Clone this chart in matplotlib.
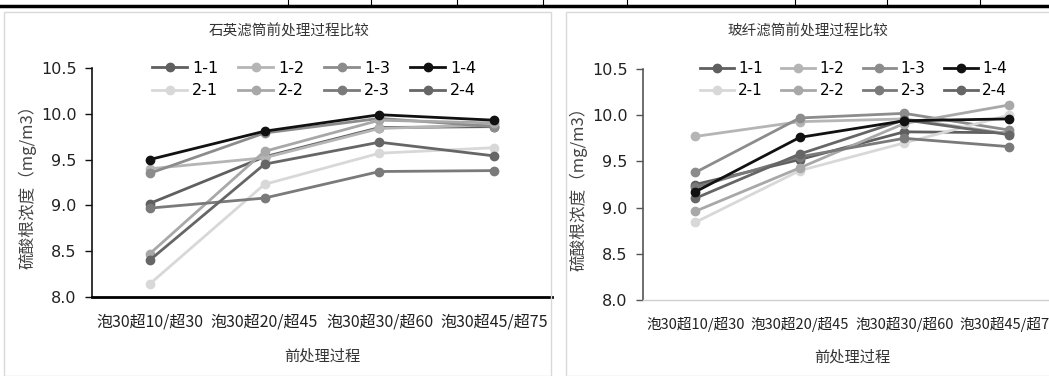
import matplotlib
matplotlib.use("Agg")
import matplotlib.pyplot as plt
from matplotlib.patches import Rectangle
from matplotlib.lines import Line2D

plt.rcParams['font.family'] = ['Noto Sans CJK SC', 'DejaVu Sans']

categories = ["泡30超10/超30", "泡30超20/超45", "泡30超30/超60", "泡30超45/超75"]
series_names = ["1-1", "1-2", "1-3", "1-4", "2-1", "2-2", "2-3", "2-4"]
series_colors = ["#5f5f5f", "#b5b5b5", "#8c8c8c", "#111111",
                 "#d8d8d8", "#a8a8a8", "#7a7a7a", "#666666"]

# 石英滤筒
quartz = {
    "1-1": [9.02, 9.53, 9.85, 9.86],
    "1-2": [9.40, 9.52, 9.84, 9.88],
    "1-3": [9.35, 9.79, 9.95, 9.86],
    "1-4": [9.50, 9.81, 9.99, 9.93],
    "2-1": [8.14, 9.23, 9.57, 9.63],
    "2-2": [8.47, 9.59, 9.93, 9.90],
    "2-3": [8.97, 9.08, 9.37, 9.38],
    "2-4": [8.40, 9.45, 9.69, 9.54],
}
# 玻纤滤筒
glass = {
    "1-1": [9.25, 9.52, 9.82, 9.81],
    "1-2": [9.77, 9.93, 9.96, 9.80],
    "1-3": [9.38, 9.97, 10.02, 9.84],
    "1-4": [9.17, 9.76, 9.94, 9.96],
    "2-1": [8.84, 9.40, 9.70, 10.00],
    "2-2": [8.96, 9.43, 9.91, 10.11],
    "2-3": [9.22, 9.55, 9.75, 9.66],
    "2-4": [9.10, 9.58, 9.95, 9.79],
}
yticks = [8.0, 8.5, 9.0, 9.5, 10.0, 10.5]

W, H = 1049, 376
fig = plt.figure(figsize=(W / 100, H / 100), dpi=100)


def px(x0, y0, x1, y1):
    # pixel box -> figure fraction [left, bottom, width, height]
    return [x0 / W, 1 - y1 / H, (x1 - x0) / W, (y1 - y0) / H]


# table remnant at the top
fig.add_artist(Line2D([0, 1], [1 - 6 / H, 1 - 6 / H], color="black", lw=2.5))
for xv in [288, 371, 457, 543, 627, 795, 887, 980]:
    fig.add_artist(Line2D([xv / W, xv / W], [1, 1 - 5 / H], color="black", lw=0.8))

# panel borders
for (a, b) in [(4, 551), (566, 1052)]:
    fig.add_artist(Rectangle((a / W, 0), (b - a) / W, 1 - 12 / H,
                             fill=False, ec="#d9d9d9", lw=1))


def draw(ax, data, title, title_x, spine_col, bottom_col, bottom_lw, tick_fs,
         leg_x, leg_fs, leg_cs):
    x = list(range(len(categories)))
    handles = {}
    for name, col in zip(series_names, series_colors):
        h, = ax.plot(x, data[name], color=col, lw=2.0, marker="o", ms=6,
                     label=name, zorder=3 if name != "1-4" else 4)
        handles[name] = h
    ax.set_xlim(-0.5, 3.5)
    ax.set_ylim(8.0, 10.5)
    ax.set_yticks(yticks)
    ax.set_yticklabels([f"{v:.1f}" for v in yticks], fontsize=11.5,
                       family="DejaVu Sans", color="#222222")
    ax.set_xticks(x)
    ax.set_xticklabels(categories, fontsize=tick_fs, color="#222222")
    ax.tick_params(axis="x", length=0, pad=12)
    ax.tick_params(axis="y", length=5, width=1, color=spine_col, pad=6)
    for s in ["top", "right"]:
        ax.spines[s].set_visible(False)
    ax.spines["left"].set_color(spine_col)
    ax.spines["left"].set_linewidth(1.2)
    ax.spines["bottom"].set_color(bottom_col)
    ax.spines["bottom"].set_linewidth(bottom_lw)
    ax.set_xlabel("前处理过程", fontsize=11, color="#333333", labelpad=12)
    ax.set_ylabel("硫酸根浓度（mg/m3）", fontsize=12, color="#444444", labelpad=3)
    order = ["1-1", "2-1", "1-2", "2-2", "1-3", "2-3", "1-4", "2-4"]
    ax.legend([handles[n] for n in order], order, ncol=4, frameon=False,
              loc="upper left", bbox_to_anchor=(leg_x / W, 1 - 61 / H),
              bbox_transform=fig.transFigure,
              handlelength=2.2, handletextpad=0.3, columnspacing=leg_cs,
              labelspacing=0.45, borderpad=0, borderaxespad=0,
              prop={"family": "DejaVu Sans", "size": leg_fs})
    fig.text(title_x / W, 1 - 31 / H, title, ha="center", va="center",
             fontsize=10.5, color="#333333")


ax1 = fig.add_axes(px(92, 68, 552, 297))
draw(ax1, quartz, "石英滤筒前处理过程比较", 289, "#111111", "#000000", 2.0, 11.5,
     152, 11.5, 1.25)

ax2 = fig.add_axes(px(643, 69, 1061, 300))
draw(ax2, glass, "玻纤滤筒前处理过程比较", 808, "#555555", "#d0d0d0", 1.0, 10.5,
     700, 11, 1.2)

fig.savefig("out.png", dpi=100)
